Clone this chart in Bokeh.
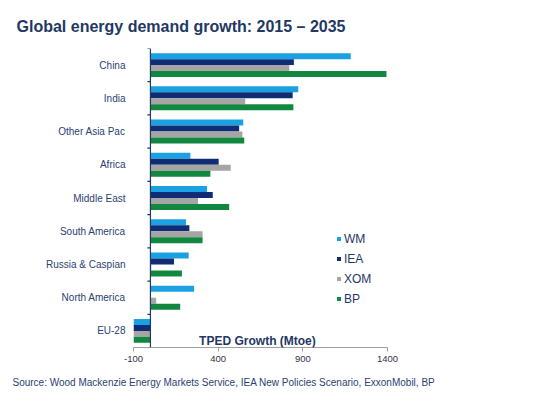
from bokeh.plotting import figure
from bokeh.models import ColumnDataSource, FactorRange, Range1d, Span, Label, Legend, FixedTicker, Title
from bokeh.transform import dodge
from bokeh.embed import file_html
from bokeh.resources import INLINE

categories = ["China", "India", "Other Asia Pac", "Africa", "Middle East",
              "South America", "Russia & Caspian", "North America", "EU-28"]
wm = [1183, 873, 548, 236, 334, 210, 226, 258, -100]
iea = [847, 840, 524, 403, 368, 230, 139, 0, -100]
xom = [820, 560, 543, 474, 281, 308, 5, 34, -100]
bp = [1394, 844, 554, 354, 465, 308, 186, 176, -100]
series_names = ["WM", "IEA", "XOM", "BP"]
x_ticks = [-100, 400, 900, 1400]
x_tick_labels = {-100: "-100", 400: "400", 900: "900", 1400: "1400"}

NAVY = "#1F3864"
colors = ["#1BA1E2", "#0E2D74", "#A5A5A5", "#12873F"]
offsets = [0.27, 0.09, -0.09, -0.27]

source = ColumnDataSource(dict(cat=categories, WM=wm, IEA=iea, XOM=xom, BP=bp))

p = figure(width=552, height=399, frame_width=254, frame_height=299,
           y_range=FactorRange(factors=list(reversed(categories))),
           x_range=Range1d(-100, 1400),
           output_backend="svg", toolbar_location=None,
           min_border_left=133, min_border_right=165,
           min_border_top=48, min_border_bottom=52)

p.title.text = "Global energy demand growth: 2015 \u2013 2035"
p.title.text_font = "Liberation Sans"
p.title.text_font_size = "16px"
p.title.text_font_style = "bold"
p.title.text_color = NAVY
p.title.offset = -117
p.title.standoff = 28

renderers = []
for name, col, off in zip(series_names, colors, offsets):
    r = p.hbar(y=dodge("cat", off, range=p.y_range), right=name, left=0,
               height=0.18, source=source, fill_color=col, line_color=None)
    renderers.append((name, [r]))

# y spine at zero with category boundary ticks
p.add_layout(Span(location=0, dimension="height", line_color=NAVY, line_width=1.2))
bounds = list(range(len(categories) + 1))
p.segment(x0=[-18] * len(bounds), x1=[0] * len(bounds), y0=bounds, y1=bounds,
          line_color=NAVY, line_width=1.2)

p.xgrid.visible = False
p.ygrid.visible = False
p.outline_line_color = None

p.yaxis.axis_line_color = None
p.yaxis.major_tick_line_color = None
p.yaxis.major_tick_out = 0
p.yaxis.major_tick_in = 0
p.yaxis.minor_tick_line_color = None
p.yaxis.major_label_text_font = "Liberation Sans"
p.yaxis.major_label_text_font_size = "10px"
p.yaxis.major_label_text_color = "#2A4272"
p.yaxis.major_label_standoff = 8

p.xaxis.ticker = FixedTicker(ticks=x_ticks)
p.xaxis.major_label_overrides = x_tick_labels
p.xaxis.axis_line_color = "#A0A0A0"
p.xaxis.major_tick_line_color = "#A0A0A0"
p.xaxis.major_tick_out = 4
p.xaxis.major_tick_in = 0
p.xaxis.minor_tick_line_color = None
p.xaxis.major_label_text_font = "Liberation Sans"
p.xaxis.major_label_text_font_size = "9.5px"
p.xaxis.major_label_text_color = "#333344"
p.xaxis.major_label_standoff = 4

p.add_layout(Label(x=632, y=0.2, text="TPED Growth (Mtoe)", text_font="Liberation Sans",
                   text_font_size="12px", text_font_style="bold", text_color=NAVY,
                   text_align="center", text_baseline="middle"))

src_title = Title(text="Source: Wood Mackenzie Energy Markets Service, IEA New Policies Scenario, ExxonMobil, BP",
                  align="left", offset=-121, standoff=20,
                  text_font="Liberation Sans", text_font_size="10px", text_font_style="normal",
                  text_color="#2A4272")
p.add_layout(src_title, "below")

legend = Legend(items=renderers, location=(203, 41), orientation="vertical",
                glyph_width=5, glyph_height=5, label_standoff=3, spacing=5,
                padding=0, margin=0, border_line_color=None, background_fill_alpha=0,
                label_text_font="Liberation Sans", label_text_font_size="12px",
                label_text_color=NAVY, label_height=15)
p.add_layout(legend)

open("out.html", "w").write(file_html(p, INLINE))
